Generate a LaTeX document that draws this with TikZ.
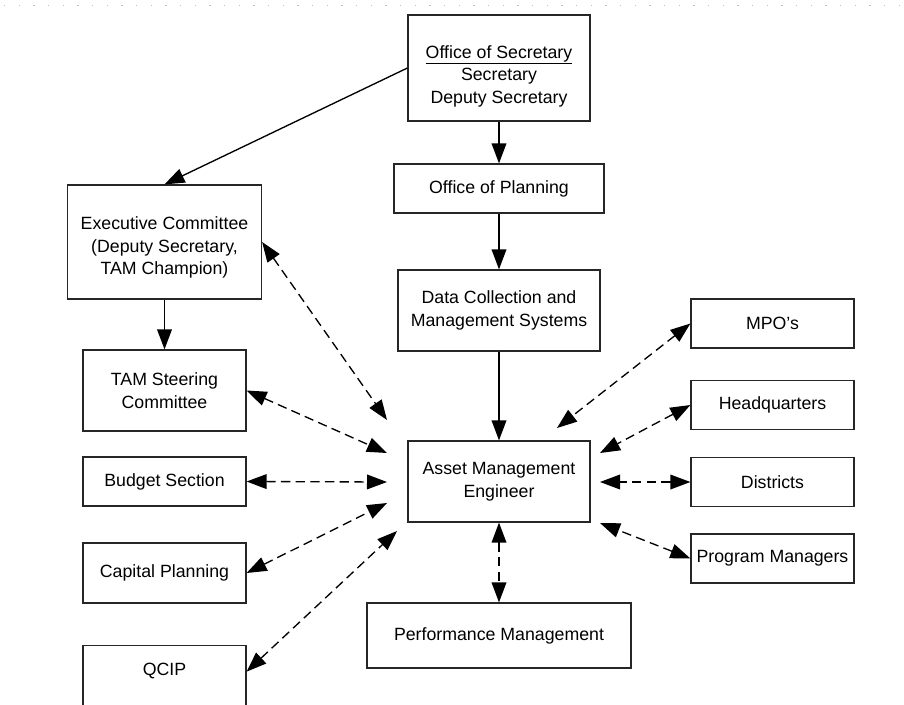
\documentclass[tikz,border=0pt]{standalone}
\usepackage{fontspec}
\setmainfont{Liberation Sans}
\usetikzlibrary{arrows.meta}
\tikzset{box/.style={draw=black!85,line width=0.9pt,align=center,inner sep=0pt,#1}}
\tikzset{box/.default={}}
\tikzset{arrow/.style={draw,-{Triangle[length=15pt,width=11pt]},line width=1pt,#1}}
\tikzset{arrow/.default={black}}
\tikzset{dualarrow/.style={draw,{Triangle[length=15pt,width=11pt]}-{Triangle[length=15pt,width=11pt]},line width=1pt,dash pattern=on 7pt off 4pt}}
\tikzset{font={\fontsize{13.3pt}{17pt}\selectfont}}

\begin{document}
\begin{tikzpicture}[x=0.75pt,y=-0.75pt]
        \useasboundingbox (0,0) rectangle (904,704);
        \draw[gray!50,line width=0.6pt,dash pattern=on 1pt off 10pt] (4,5) -- (900,5);

        % middle column
        \node[box, minimum width=136.5pt, minimum height=79.5pt] (sec) at (499,68) {\rule{0pt}{22pt}\underline{Office of Secretary}\\Secretary\\Deputy Secretary};
        \node[box, minimum width=157.5pt, minimum height=36.75pt] (plan) at (499,188.5) {Office of Planning};
        \node[box, minimum width=151.5pt, minimum height=60.75pt] (data) at (499,310.5) {Data Collection and\\Management Systems};
        \node[box, minimum width=136.5pt, minimum height=60.75pt] (ame) at (499,481.5) {Asset Management\\Engineer};
        \node[box, minimum width=198pt, minimum height=48.75pt] (perf) at (499,635.5) {Performance Management};

        % left column
        \node[box, minimum width=145.5pt, minimum height=85.5pt] (exec) at (164.5,242) {\rule{0pt}{18pt}Executive Committee\\(Deputy Secretary,\\TAM Champion)};
        \foreach \n/\y/\h/\t in {tam/390.5/60.75/{TAM Steering\\Committee}, bud/481.5/36.75/{Budget Section}, cap/573/45/{Capital Planning}}{
            \node[box, minimum width=122.25pt, minimum height=\h pt] (\n) at (164.5,\y) {\t};
        }
        \node[box, minimum width=122.25pt, anchor=north, text height=22.5pt, text depth=60pt] (qcip) at (164.5,645) {QCIP};

        % right column
        \foreach \n/\y/\t in {mpo/323.5/{MPO’s}, hq/405/{Headquarters}, dist/482/{Districts}, pm/558.5/{Program Managers}}{
            \node[box, minimum width=122.25pt, minimum height=36.75pt] (\n) at (772.5,\y) {\t};
        }

        % reporting lines
        \path[arrow] (sec.west) -- (exec.north);
        \path[arrow] (sec) -- (plan);
        \path[arrow] (plan) -- (data);
        \path[arrow] (data) -- (ame);
        \path[arrow] (exec) -- (tam);

        % two-way links to the engineer
        \foreach \n/\a/\x/\y in {exec/east/387/420, tam/east/387/453, bud/east/387/482, cap/east/387/503, mpo/west/557/428, hq/west/600/453, dist/west/600/482, pm/west/600/523}{
            \coordinate (a\n) at (\x,\y);
            \path[dualarrow] (\n.\a) -- (a\n);
        }
        \coordinate (aqcip) at (397,531);
        \path[dualarrow] ([yshift=-20pt]qcip.north east) -- (aqcip);
        \path[dualarrow] (ame) -- (perf);
    \end{tikzpicture}
\end{document}
